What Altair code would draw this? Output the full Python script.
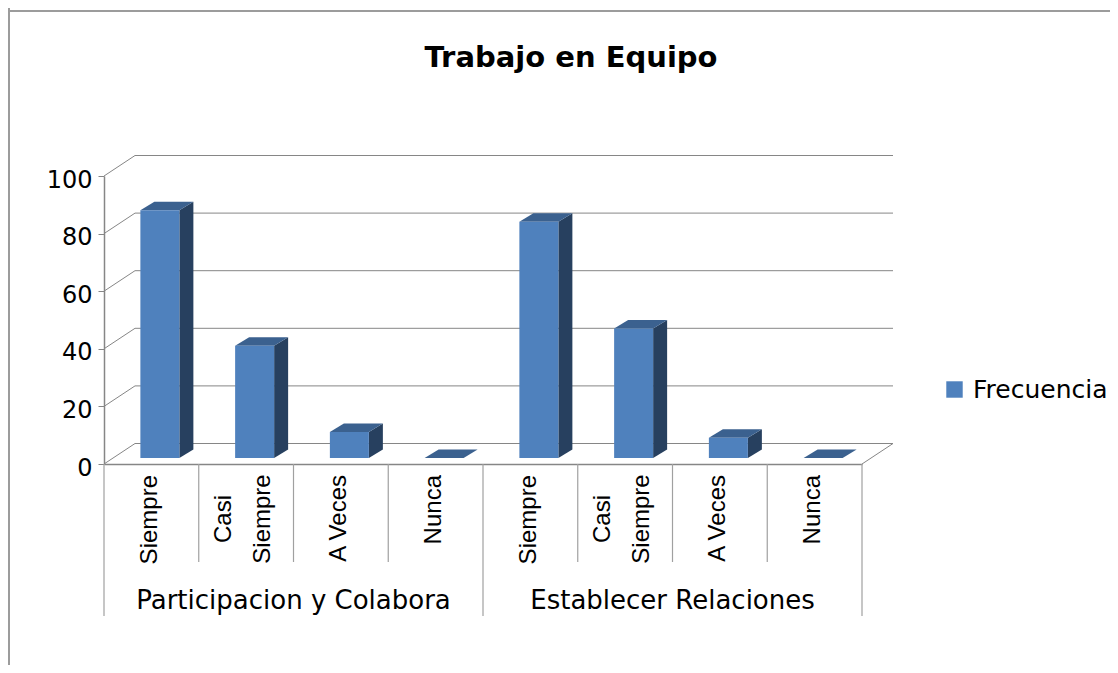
import altair as alt
import pandas as pd

# ---- values ----
groups = ["Participacion y Colabora", "Establecer Relaciones"]
categories = ["Siempre", "Casi\nSiempre", "A Veces", "Nunca",
              "Siempre", "Casi\nSiempre", "A Veces", "Nunca"]
values = [86, 39, 9, 0, 82, 45, 7, 0]
ticks = [0, 20, 40, 60, 80, 100]
series = "Frecuencia"

# ---- projection of the fake 3-D box, in data units ----
PX_X = 758 / 8        # px per category
PX_Y = 288 / 100      # px per value unit
WALL_DX, WALL_DY = 31 / PX_X, 20.5 / PX_Y
BAR_DX, BAR_DY = 14 / PX_X, 8.5 / PX_Y
BAR_SHIFT_X, BAR_BASE = 8.5 / PX_X, 6 / PX_Y
BAR_W = 39 / PX_X

GRID = "#868686"
FRONT, TOP, SIDE = "#4F81BD", "#3B618F", "#27405F"
FONT, NARROW = "DejaVu Sans", "Liberation Sans"

bars = pd.DataFrame({"i": range(8), "v": values})
bars["xl"] = bars.i + 0.5 + BAR_SHIFT_X - BAR_W / 2
bars["xr"] = bars.xl + BAR_W
bars["y0"] = BAR_BASE
bars["y1"] = bars.v + BAR_BASE
bars["series"] = series

side_rows, top_rows, grid_rows = [], [], []
for r in bars.itertuples():
    side_rows += [{"i": r.i, "x": r.xr, "a": r.y0, "b": r.y1},
                  {"i": r.i, "x": r.xr + BAR_DX, "a": r.y0 + BAR_DY, "b": r.y1 + BAR_DY}]
    top_rows += [{"i": r.i, "x": r.xl, "a": r.y1, "b": r.y1},
                 {"i": r.i, "x": r.xl + BAR_DX, "a": r.y1, "b": r.y1 + BAR_DY},
                 {"i": r.i, "x": r.xr, "a": r.y1, "b": r.y1 + BAR_DY},
                 {"i": r.i, "x": r.xr + BAR_DX, "a": r.y1 + BAR_DY, "b": r.y1 + BAR_DY}]
for t in ticks:
    grid_rows += [{"t": t, "x": 0, "y": t},
                  {"t": t, "x": WALL_DX, "y": t + WALL_DY},
                  {"t": t, "x": 8 + WALL_DX, "y": t + WALL_DY}]
grid_rows += [{"t": -1, "x": 8, "y": 0}, {"t": -1, "x": 8 + WALL_DX, "y": WALL_DY}]

xs = alt.Scale(domain=[0, 8], nice=False)
ys = alt.Scale(domain=[0, 100], nice=False)
x_axis = alt.Axis(labels=False, ticks=False, grid=False, domain=True,
                  domainColor=GRID, domainWidth=1.5, title=None)
y_axis = alt.Axis(values=ticks, grid=False, domain=True, domainColor=GRID,
                  domainWidth=1.5, tickColor=GRID, tickSize=6, labelPadding=6, labelOffset=4,
                  labelFont=FONT, labelFontSize=24, labelColor="black", title=None)
X = lambda f: alt.X(f, type="quantitative", scale=xs, axis=x_axis)
Y = lambda f: alt.Y(f, type="quantitative", scale=ys, axis=y_axis)

# frame of the chart
frame = alt.Chart(pd.DataFrame({"a": [0]})).mark_rule(color="#9C9C9C", strokeWidth=2)
frame_left = frame.encode(x=alt.value(-95), y=alt.value(-168), y2=alt.value(489))
frame_top = frame.encode(y=alt.value(-165), x=alt.value(-96), x2=alt.value(1006))

# walls
grid = alt.Chart(pd.DataFrame(grid_rows)).mark_line(color=GRID, strokeWidth=1).encode(
    x=X("x"), y=Y("y"), detail="t:N", order="x:Q")

# bars
side = alt.Chart(pd.DataFrame(side_rows)).mark_area(color=SIDE, orient="vertical").encode(
    x=X("x"), y=Y("a"), y2=alt.Y2("b"), detail="i:N")
top = alt.Chart(pd.DataFrame(top_rows)).mark_area(color=TOP, orient="vertical").encode(
    x=X("x"), y=Y("a"), y2=alt.Y2("b"), detail="i:N")
front = alt.Chart(bars[bars.v > 0]).mark_rect().encode(
    x=X("xl"), x2="xr:Q", y=Y("y0"), y2="y1:Q",
    color=alt.Color("series:N",
                    scale=alt.Scale(domain=[series], range=[FRONT]),
                    legend=alt.Legend(orient="none", legendX=838, legendY=201, title=None,
                                      symbolType="square", symbolSize=270, symbolStrokeWidth=0,
                                      labelFont=FONT, labelFontSize=25, labelColor="black",
                                      labelOffset=6, padding=0)))

# category separators
edges = pd.DataFrame({"x": range(9)})
minor = alt.Chart(edges[edges.x % 4 != 0]).mark_rule(color="#A0A0A0", strokeWidth=1.2).encode(
    x=X("x"), y=alt.value(288), y2=alt.value(386))
major = alt.Chart(edges[edges.x % 4 == 0]).mark_rule(color="#A0A0A0", strokeWidth=1.2).encode(
    x=X("x"), y=alt.value(288), y2=alt.value(440))

# labels
cats = pd.DataFrame({"x": [i + 0.5 for i in range(8)], "c": categories})
one = cats[~cats.c.str.contains("\n")].copy()
two = cats[cats.c.str.contains("\n")].copy()
one["x"] = one.x - 1.5 / PX_X
two["x"] = two.x - 22 / PX_X
lab1 = alt.Chart(one).mark_text(angle=270, align="right", baseline="middle", font=NARROW,
                                fontSize=24, color="black").encode(
    x=X("x"), y=alt.value(299), text="c:N")
lab2 = alt.Chart(two).mark_text(angle=270, align="center", baseline="middle", font=NARROW,
                                fontSize=24, color="black", lineBreak="\n", lineHeight=39).encode(
    x=X("x"), y=alt.value(343), text="c:N")
grp = alt.Chart(pd.DataFrame({"x": [2, 6], "g": groups})).mark_text(
    baseline="middle", font=FONT, fontSize=26, color="black").encode(
    x=X("x"), y=alt.value(425), text="g:N")

chart = alt.layer(frame_left, frame_top, grid, side, top, front, minor, major, lab1, lab2, grp).properties(
    width=758, height=288,
    padding={"left": 96, "top": 168, "right": 248, "bottom": 201},
    autosize=alt.AutoSizeParams(type="none"),
    background="white",
    title=alt.TitleParams("Trabajo en Equipo", font=FONT, fontSize=29, fontWeight="bold",
                          color="black", anchor="middle", dx=88, offset=-66),
).configure_view(strokeWidth=0)

chart.save("out.html", embed_options={"renderer": "svg", "actions": False})
